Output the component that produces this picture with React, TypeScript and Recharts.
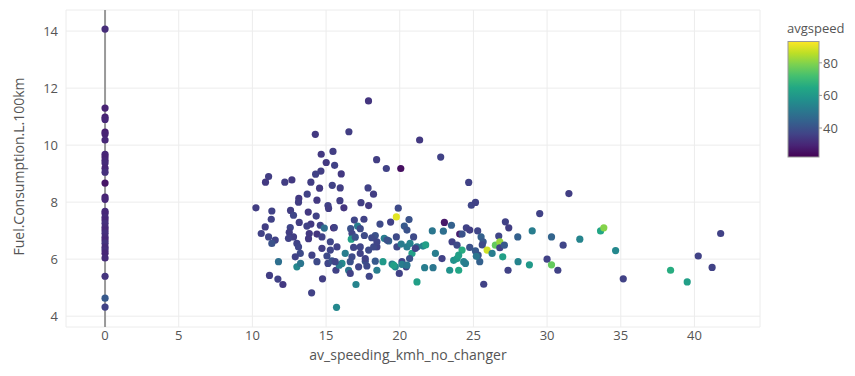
import React from "react";
import {
  ScatterChart,
  Scatter,
  XAxis,
  YAxis,
  ZAxis,
  CartesianGrid,
  ReferenceLine,
} from "recharts";

// Trips with no speeding recorded (av_speeding = 0)
const zeroFuel = [
  14.07, 11.3, 10.98, 10.9, 10.46, 10.39, 10.18, 9.68, 9.58, 9.47,
  9.37, 9.19, 9.05, 8.67, 8.18, 8.1, 7.68, 7.61, 7.47, 7.37,
  7.26, 7.12, 7.02, 6.91, 6.77, 6.67, 6.56, 6.42, 6.32, 6.21,
  6.04, 5.4, 4.63, 4.32,
];
const zeroAvgSpeed = [
  31, 29, 29, 30, 28, 29, 30, 30, 29, 30,
  31, 30, 32, 26, 29, 30, 31, 30, 31, 30,
  32, 31, 30, 32, 31, 30, 33, 31, 32, 30,
  31, 33, 42, 36,
];

// Trips with speeding recorded
const speeding = [
  17.88, 14.27, 16.55, 21.35, 22.78, 14.67, 15.47, 15.01, 15.58, 18.43,
  19.09, 20.07, 14.65, 14.29, 16.03, 11.1, 10.89, 12.2, 12.68, 13.97,
  15.42, 15.96, 14.56, 17.85, 18.22, 13.72, 13.15, 10.24, 11.32, 13.13,
  14.38, 15.13, 15.94, 16.21, 17.37, 17.89, 19.9, 19.77, 12.59, 12.79,
  13.79, 14.33, 15.17, 11.28, 13.18, 13.97, 14.61, 15.51, 16.92, 17.57,
  18.66, 19.38, 20.63, 23.03, 23.51, 10.87, 10.6, 12.57, 12.5, 13.7,
  13.86, 14.38, 14.88, 15.56, 16.67, 17.14, 17.32, 16.76, 11.1, 11.55,
  11.32, 12.79, 13.02, 13.81, 14.72, 15.29, 16.71, 16.98, 17.6, 18.34,
  18.95, 19.25, 19.77, 20.31, 20.49, 20.94, 22.21, 22.96, 24.07, 13.13,
  13.25, 14.04, 14.72, 15.29, 15.06, 15.74, 16.3, 16.08, 16.64, 17.32,
  17.89, 18.45, 19.14, 19.81, 20.49, 20.83, 21.17, 21.58, 21.76, 22.42,
  22.87, 23.66, 24.0, 11.77, 13.02, 13.27, 14.38, 15.13, 15.4, 15.67,
  15.9, 16.53, 16.64, 17.21, 17.66, 17.77, 18.34, 18.45, 18.86, 19.48,
  19.7, 20.15, 20.44, 20.67, 21.69, 22.26, 23.39, 11.16, 11.73, 12.07,
  14.76, 17.03, 17.93, 21.17, 14.02, 15.71,
  24.68, 24.86, 25.14, 31.48, 29.5, 24.52, 24.75, 25.29, 24.23, 23.55,
  23.89, 25.52, 25.66, 26.72, 27.17, 27.4, 28.01, 28.99, 30.3, 31.09,
  32.22, 33.63, 33.85, 34.65, 24.75, 25.14, 25.32, 25.43, 25.6, 25.93,
  26.27, 26.49, 26.79, 26.79, 27.1, 26.99, 24.23, 23.89, 24.0, 24.34,
  24.46, 25.2, 27.35, 28.03, 28.8, 30.0, 30.3, 30.73, 25.7, 35.17,
  38.38, 39.51, 40.26, 41.2, 41.78,
  18.1, 20.1, 20.7, 16.87, 17.32, 18.23, 18.45, 16.76, 17.66, 15.62,
  19.59, 20.15, 20.49, 19.97, 21.06, 12.45, 12.91,
];
const fuel = [
  11.55, 10.38, 10.47, 10.18, 9.58, 9.68, 9.78, 9.39, 9.29, 9.49,
  9.18, 9.18, 9.09, 8.98, 8.99, 8.9, 8.7, 8.7, 8.78, 8.7,
  8.59, 8.5, 8.49, 8.5, 8.28, 8.28, 8.13, 7.8, 7.69, 8.0,
  8.07, 7.88, 8.05, 7.8, 7.98, 7.88, 7.79, 7.48, 7.71, 7.54,
  7.65, 7.51, 7.78, 7.4, 7.29, 7.23, 7.19, 7.1, 7.37, 7.4,
  7.23, 7.3, 7.39, 7.29, 7.19, 7.13, 6.9, 7.11, 6.94, 7.16,
  6.9, 6.88, 7.09, 7.11, 7.07, 7.16, 7.07, 6.9, 6.78, 6.67,
  6.55, 6.78, 6.55, 6.72, 6.78, 6.61, 6.7, 6.77, 6.83, 6.83,
  6.73, 6.64, 6.78, 7.16, 7.02, 6.78, 6.99, 6.98, 6.88, 6.43,
  6.2, 6.14, 6.38, 6.32, 6.11, 6.43, 6.2, 5.85, 5.91, 6.43,
  6.32, 6.43, 6.67, 6.43, 6.43, 6.2, 6.43, 6.46, 6.5, 6.2,
  6.02, 5.96, 5.61, 5.91, 5.73, 5.85, 5.91, 5.85, 5.94, 5.61,
  5.79, 5.61, 5.5, 5.73, 5.93, 5.76, 5.93, 5.61, 5.91, 5.83,
  5.73, 5.91, 5.73, 6.02, 5.7, 5.7, 5.61, 5.43, 5.3, 5.11,
  5.31, 5.11, 5.4, 5.2, 4.82, 4.31,
  8.69, 7.89, 7.99, 8.3, 7.6, 7.1, 7.02, 6.99, 6.88, 6.61,
  6.49, 6.78, 6.61, 6.81, 7.31, 7.1, 6.78, 6.99, 6.78, 6.49,
  6.7, 6.99, 7.1, 6.3, 6.41, 6.29, 6.14, 5.91, 6.5, 6.32,
  6.2, 6.49, 6.61, 6.4, 6.49, 6.08, 6.32, 6.02, 6.14, 5.91,
  5.85, 6.1, 5.61, 5.91, 5.8, 6.0, 5.8, 5.61, 5.12, 5.31,
  5.61, 5.2, 6.11, 5.71, 6.9,
  6.75, 6.53, 6.55, 6.41, 6.2, 6.43, 6.61, 6.08, 6.02, 5.91,
  5.79, 5.82, 5.79, 5.5, 6.38, 6.73, 6.08,
];
const avgSpeed = [
  33, 34, 35, 34, 36, 34, 35, 34, 36, 35,
  36, 25, 35, 36, 34, 35, 34, 35, 34, 35,
  36, 35, 34, 36, 35, 36, 34, 35, 36, 35,
  34, 36, 35, 33, 35, 34, 38, 90, 35, 37,
  34, 36, 35, 36, 35, 34, 36, 28, 37, 36,
  38, 36, 40, 27, 44, 35, 36, 37, 35, 36,
  34, 33, 48, 36, 40, 52, 38, 37, 37, 36,
  40, 35, 36, 34, 36, 37, 62, 40, 38, 40,
  52, 45, 38, 42, 40, 38, 50, 48, 28, 37,
  38, 36, 35, 37, 38, 36, 52, 56, 40, 37,
  38, 36, 40, 38, 52, 62, 50, 54, 62, 52,
  36, 58, 64, 48, 55, 50, 38, 37, 40, 36,
  52, 50, 36, 37, 40, 38, 42, 52, 60, 52,
  55, 37, 36, 40, 52, 50, 58, 35, 36, 34,
  35, 54, 37, 62, 36, 55,
  36, 37, 36, 35, 36, 36, 35, 37, 40, 36,
  38, 44, 42, 37, 36, 35, 44, 52, 45, 37,
  54, 64, 80, 55, 40, 42, 40, 44, 38, 88,
  52, 76, 82, 36, 42, 62, 66, 60, 62, 54,
  52, 50, 36, 54, 60, 36, 76, 36, 36, 36,
  66, 62, 36, 36, 36,
  38, 52, 54, 37, 36, 38, 37, 38, 36, 37,
  62, 52, 50, 36, 36, 36, 36,
];

const xTicks = [0, 5, 10, 15, 20, 25, 30, 35, 40];
const yTicks = [4, 6, 8, 10, 12, 14];
const colorTicks = [40, 60, 80];
const colorMin = 22.2;
const colorMax = 93.1;

const VIRIDIS = [
  "#440154", "#482475", "#414487", "#355f8d", "#2a788e", "#21918c",
  "#22a884", "#44bf70", "#7ad151", "#bddf26", "#fde725",
];

function hexToRgb(h: string) {
  return [1, 3, 5].map((i) => parseInt(h.slice(i, i + 2), 16));
}

function viridis(v: number) {
  let t = (v - colorMin) / (colorMax - colorMin);
  t = Math.max(0, Math.min(1, t));
  const p = t * (VIRIDIS.length - 1);
  const i = Math.min(Math.floor(p), VIRIDIS.length - 2);
  const f = p - i;
  const a = hexToRgb(VIRIDIS[i]);
  const b = hexToRgb(VIRIDIS[i + 1]);
  const c = a.map((x, k) => Math.round(x + (b[k] - x) * f));
  return `rgb(${c[0]},${c[1]},${c[2]})`;
}

const points = [
  ...zeroFuel.map((y, i) => ({ x: 0, y, c: zeroAvgSpeed[i] })),
  ...speeding.map((x, i) => ({ x, y: fuel[i], c: avgSpeed[i] })),
];

const FONT = '"Open Sans", verdana, arial, sans-serif';
const TEXT = "#555";

const Dot = (props: any) => {
  const { cx, cy, payload } = props;
  if (cx == null || cy == null) return null;
  return <circle cx={cx} cy={cy} r={3.6} fill={viridis(payload.c)} />;
};

const YTitle = (props: any) => {
  const { viewBox } = props;
  const x = viewBox.x + 12;
  const y = viewBox.y + viewBox.height / 2 - 2;
  return (
    <text
      x={x}
      y={y}
      transform={`rotate(-90, ${x}, ${y})`}
      textAnchor="middle"
      dominantBaseline="central"
      fill={TEXT}
      fontSize={14}
      fontFamily={FONT}
    >
      Fuel.Consumption.L.100km
    </text>
  );
};

const XTitle = (props: any) => {
  const { viewBox } = props;
  const x = viewBox.x + viewBox.width / 2 - 5;
  const y = viewBox.y + 27;
  return (
    <text
      x={x}
      y={y}
      textAnchor="middle"
      dominantBaseline="central"
      fill={TEXT}
      fontSize={14}
      fontFamily={FONT}
    >
      av_speeding_kmh_no_changer
    </text>
  );
};

// Colour scale legend for avgspeed
const Colorbar = () => {
  const bx = 788;
  const by = 41.5;
  const bw = 31;
  const bh = 115.5;
  const toY = (v: number) => by + bh - ((v - colorMin) / (colorMax - colorMin)) * bh;
  return (
    <svg
      width={855}
      height={376}
      style={{ position: "absolute", left: 0, top: 0, pointerEvents: "none" }}
    >
      <defs>
        <linearGradient id="viridisBar" x1="0" y1="1" x2="0" y2="0">
          {VIRIDIS.map((c, i) => (
            <stop key={c} offset={i / (VIRIDIS.length - 1)} stopColor={c} />
          ))}
        </linearGradient>
      </defs>
      <text x={bx - 1} y={33} fill={TEXT} fontSize={13} fontFamily={FONT}>
        avgspeed
      </text>
      <rect
        x={bx}
        y={by}
        width={bw}
        height={bh}
        fill="url(#viridisBar)"
        stroke="#999"
        strokeWidth={1}
      />
      {colorTicks.map((t) => (
        <g key={t}>
          <line
            x1={bx + bw}
            x2={bx + bw + 3}
            y1={toY(t)}
            y2={toY(t)}
            stroke="#999"
          />
          <text
            x={bx + bw + 4}
            y={toY(t)}
            dominantBaseline="central"
            fill={TEXT}
            fontSize={13}
            fontFamily={FONT}
          >
            {t}
          </text>
        </g>
      ))}
    </svg>
  );
};

export default function App() {
  return (
    <div
      style={{
        position: "absolute",
        left: 0,
        top: 0,
        width: 855,
        height: 376,
        background: "#fff",
      }}
    >
      <ScatterChart
        width={855}
        height={376}
        margin={{ top: 10, right: 95, bottom: 0, left: 6 }}
      >
        <CartesianGrid stroke="#ececec" strokeWidth={1} />
        <XAxis
          type="number"
          dataKey="x"
          domain={[-2.65, 44.45]}
          ticks={xTicks}
          allowDataOverflow
          axisLine={false}
          tickLine={false}
          tickSize={0}
          tickMargin={4}
          height={49}
          tick={{ fill: TEXT, fontSize: 13, fontFamily: FONT }}
          label={<XTitle />}
        />
        <YAxis
          type="number"
          dataKey="y"
          domain={[3.62, 14.74]}
          ticks={yTicks}
          allowDataOverflow
          axisLine={false}
          tickLine={false}
          tickSize={0}
          tickMargin={8}
          width={60}
          tick={{ fill: TEXT, fontSize: 13, fontFamily: FONT }}
          label={<YTitle />}
        />
        <ZAxis range={[40, 40]} />
        <ReferenceLine x={0} stroke="#999" strokeWidth={2} />
        <Scatter
          data={points}
          shape={<Dot />}
          isAnimationActive={false}
        />
      </ScatterChart>
      <Colorbar />
    </div>
  );
}
